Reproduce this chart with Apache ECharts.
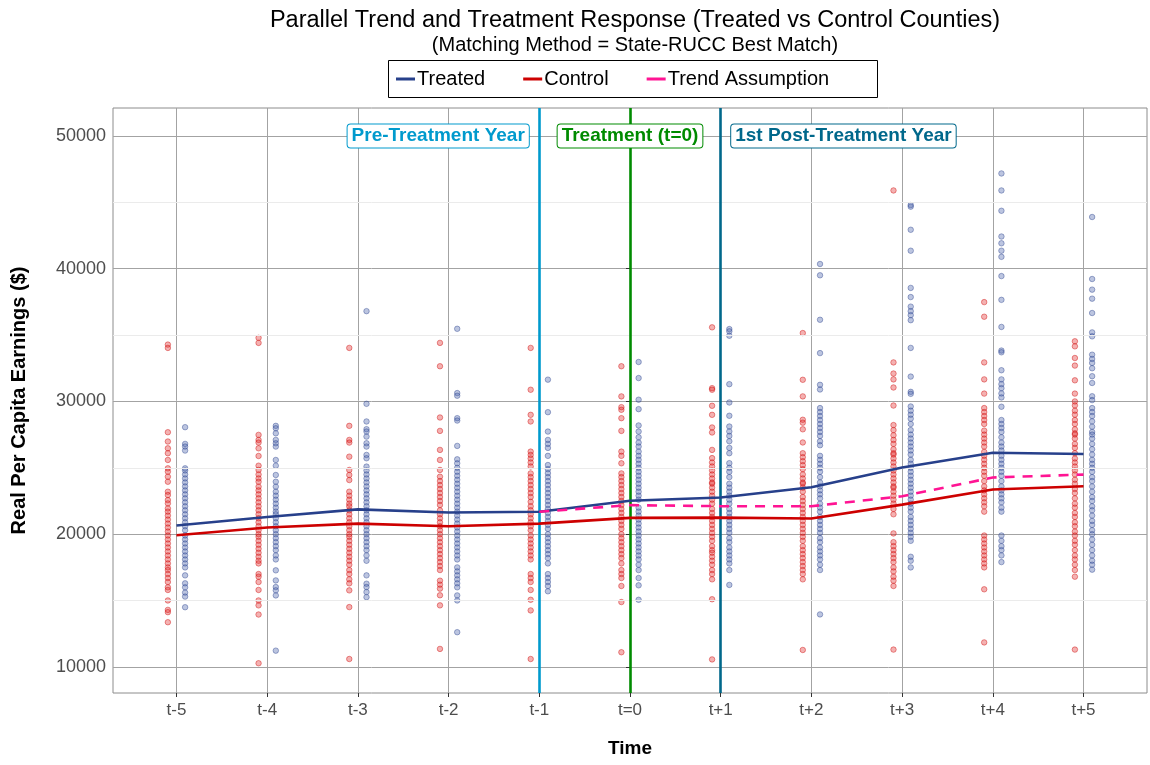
<!DOCTYPE html>
<html><head><meta charset="utf-8">
<script src="https://cdn.jsdelivr.net/npm/echarts@6/dist/echarts.min.js"></script>
<style>html,body{margin:0;padding:0;background:#fff}#chart{width:1150px;height:765px}</style>
</head><body><div id="chart"></div>
<script>
const periods = ['t-5','t-4','t-3','t-2','t-1','t=0','t+1','t+2','t+3','t+4','t+5'];
const periodValues = [-5,-4,-3,-2,-1,0,1,2,3,4,5];
const treatedMean = [20650,21300,21870,21640,21690,22520,22760,23540,25030,26130,26040];
const controlMean = [19920,20500,20800,20600,20800,21230,21250,21180,22230,23370,23610];
const trendAssumption = [null,null,null,null,21690,22190,22110,22110,22860,24270,24490];
const yTicks = [10000,20000,30000,40000,50000];
const yMinorTicks = [15000,25000,35000,45000];
const annotationLabels = ['Pre-Treatment Year','Treatment (t=0)','1st Post-Treatment Year'];
const annotationPeriods = [-1,0,1];
const annotationY = 50000;

const controlObs = [
[34280,34030,27680,26980,26470,26100,25590,24960,24710,24330,23950,23200,22950,22570,22320,21940,21700,21400,21100,20800,20500,20200,19900,19600,19300,19000,18700,18400,18100,17800,17500,17300,17000,16700,16400,16000,15800,15010,14300,14130,13370],
[34790,34410,27480,27100,26900,26470,25890,25160,24840,24500,24200,23950,23580,23300,23000,22700,22400,22100,21800,21500,21200,20900,20600,20300,20000,19800,19500,19200,18900,18600,18300,18000,17800,17000,16800,16400,15800,15010,14640,13950,10280],
[34030,28160,27100,26900,25840,24840,24460,24080,23200,22900,22600,22300,22100,21800,21500,21200,20900,20600,20300,20000,19800,19500,19200,18900,18600,18300,18000,17700,17300,17000,16600,16300,15770,14510,10600],
[34410,32650,28790,27780,26350,25590,24840,24330,24000,23700,23400,23100,22800,22500,22200,21800,21500,21200,20900,20600,20300,20000,19700,19400,19100,18800,18500,18200,17900,17600,17300,16500,16200,15900,15400,14640,11360],
[34030,30880,28990,28490,26220,25970,25700,25400,25100,24580,24300,24000,23700,23400,23100,22800,22440,22100,21800,21500,21200,20900,20600,20300,19900,19600,19300,19000,18700,18400,18100,17000,16700,16400,15800,15060,14260,10600],
[32650,30380,29570,29370,28740,27780,26220,25900,25340,24580,24300,24000,23700,23400,23100,22800,22500,22200,21900,21600,21300,21000,20700,20400,20000,19700,19400,19100,18800,18500,18200,17800,17300,17000,16700,16100,14890,11110],
[35580,31000,30880,29670,28990,28040,27660,26350,25730,25400,25100,24800,24500,24200,23900,23800,23500,23200,22900,22600,22300,21900,21600,21300,21000,20700,20400,20100,19800,19500,19100,18800,18600,18300,18000,17700,17300,17000,16600,15100,10570],
[35150,31630,30380,28620,28400,27900,26910,26100,25800,25500,25200,24900,24500,24200,23900,23800,23500,23200,22800,22500,22200,21900,21600,21300,21000,20700,20400,20100,19800,19500,19100,18800,18500,18200,17900,17600,17300,17000,16600,11280],
[45890,32940,32100,31660,31050,29690,28220,27840,27450,27100,26800,26400,26100,26000,25700,25400,25100,24800,24500,24200,23900,23600,23500,23200,22900,22600,22300,21900,21500,20060,19400,19100,18800,18500,18200,17900,17500,17200,16800,16500,16100,11310],
[37480,36380,32940,31660,30590,29500,29200,28900,28600,28300,27800,27500,27200,26900,26600,26200,25900,25600,25300,25000,24700,24400,24000,23600,23300,23000,22700,22400,22100,21700,19900,19600,19300,19000,18700,18400,18100,17800,17500,15850,11850],
[34530,34150,33270,32700,31590,30590,30000,29700,29300,29000,28600,28300,27900,27600,27500,27200,26800,26500,26100,25700,25400,25100,24800,24500,24100,23800,23400,23100,22700,22300,22000,21600,21300,20900,20600,20200,19900,19500,19200,18800,18400,18100,17700,17300,16800,11310]
];
const treatedObs = [
[28060,26800,26600,26300,24960,24800,24500,24200,23900,23600,23300,23000,22700,22400,22100,21800,21500,21200,20900,20600,20300,19900,19600,19300,19000,18700,18400,18100,17800,17500,16900,16300,16000,15600,15300,14500],
[28160,27980,27600,27100,26850,26600,25590,25160,24460,23950,23580,23200,22900,22600,22300,22000,21700,21500,21200,20900,20600,20300,20000,19700,19400,19100,18800,18400,18100,17280,16520,16020,15770,15390,11230],
[36800,29820,28490,27910,27730,27350,26850,26600,25970,25720,25090,24800,24500,24200,23900,23600,23300,23000,22700,22400,22100,21800,21500,21200,20900,20600,20300,20000,19700,19400,19100,18800,18400,18000,16900,16270,16020,15640,15260],
[35470,30630,30430,28740,28560,26650,25640,25340,25000,24700,24400,24100,23800,23500,23200,22900,22600,22300,22000,21700,21400,21100,20800,20500,20200,19900,19600,19300,19000,18700,18400,18100,17500,17200,16900,16600,16300,16000,15390,15010,12620],
[31640,29190,27730,27100,26800,26500,25900,25210,24900,24600,24300,24000,23700,23400,23100,22800,22500,22200,21900,21600,21300,21000,20700,20400,20000,19700,19400,19100,18800,18500,18200,17800,17000,16700,16400,16100,15700],
[32970,31760,30130,29420,28190,27730,27300,26900,26600,26220,25900,25600,25300,25000,24700,24400,24100,23800,23500,23200,22900,22600,22000,21700,21400,21100,20800,20500,20200,19900,19600,19300,19000,18700,18400,18100,17700,17300,16700,16150,15060],
[35450,35280,34950,31300,29920,28920,28110,27740,27400,27000,26500,26100,25350,25000,24700,24300,23800,23500,23200,22900,22600,22300,21900,21600,21300,21000,20700,20400,20100,19700,19400,19000,18700,18400,18100,17800,17300,16180],
[40350,39500,36150,33640,31250,30900,29500,29200,28900,28600,28300,28000,27700,27400,27000,26700,25900,25600,25300,25000,24700,24300,23900,23600,23300,23000,22700,22300,22000,21700,21300,21000,20700,20400,20100,19700,19400,19000,18700,18400,18100,17700,17300,13960],
[44790,44670,42930,41350,38550,37860,37140,36800,36500,36120,34030,31870,30720,30570,29620,29300,29000,28700,28300,27840,27500,27200,26900,26600,26300,26000,25600,25300,25000,24700,24400,24100,23800,23500,23200,22900,22600,22300,22000,21700,21300,21000,20700,20400,20100,19800,19500,18300,18000,17500],
[47170,45890,44360,42420,41910,41350,40890,39440,37650,35610,33830,33700,32350,31660,31300,31000,30600,30300,29600,28600,28300,28000,27700,27300,26900,26600,26300,25900,25600,25300,25000,24700,24400,24000,23600,23300,23000,22700,22400,22000,21700,19900,19500,19100,18800,18400,17900],
[43890,39220,38420,37740,36660,35200,34900,33520,33200,32900,32500,31900,31390,30390,30100,29500,29200,28900,28500,28100,27700,27500,27200,26800,26400,26000,25600,25300,25000,24700,24300,24000,23600,23200,22800,22500,22100,21800,21400,21000,20700,20300,20000,19600,19200,18800,18400,18000,17700,17330]
];

const COL_T = '#27408B', COL_C = '#CD0000', COL_TREND = '#FF1493';
const refColors = ['#009ACD', '#008B00', '#00688B'];
const FONT = '"Liberation Sans", Arial, sans-serif';

function pts(obs, shift) {
  const out = [];
  obs.forEach((col, i) => col.forEach(v => out.push([periodValues[i] + shift, v])));
  return out;
}
const pairs = arr => periodValues.map((p, i) => [p, arr[i]]).filter(d => d[1] != null);

const chart = echarts.init(document.getElementById('chart'), null, {renderer: 'canvas'});
const labelPos = ['left', 'inside', 'right'];
const option = {
  backgroundColor: '#fff',
  animation: false,
  textStyle: {fontFamily: FONT},
  title: {
    text: 'Parallel Trend and Treatment Response (Treated vs Control Counties)',
    subtext: '(Matching Method = State-RUCC Best Match)',
    left: 630, textAlign: 'center', top: 4, itemGap: 2,
    textStyle: {fontSize: 23.5, fontWeight: 'normal', color: '#000', fontFamily: FONT},
    subtextStyle: {fontSize: 20, color: '#000', fontFamily: FONT}
  },
  legend: {
    data: ['Treated', 'Control', 'Trend Assumption'],
    icon: 'rect',
    left: 396, top: 69, itemWidth: 19, itemHeight: 3, itemGap: 38, padding: 0,
    textStyle: {fontSize: 20, color: '#000', fontFamily: FONT, padding: [0,0,0,-3]}
  },
  graphic: [{
    type: 'rect', left: 386, top: 58, silent: true,
    shape: {width: 489, height: 37},
    style: {fill: 'none', stroke: '#000', lineWidth: 1}
  }],
  grid: {left: 113, right: 3, top: 108, bottom: 72, show: true, borderColor: '#8c8c8c', borderWidth: 1, backgroundColor: '#fff'},
  xAxis: {
    type: 'value', min: -5.7, max: 5.7,
    name: 'Time', nameLocation: 'middle', nameGap: 46,
    nameTextStyle: {fontSize: 19, fontWeight: 'bold', color: '#000', fontFamily: FONT},
    axisLine: {show: false},
    axisTick: {show: true, length: 4, customValues: periodValues, lineStyle: {color: '#333'}},
    axisLabel: {customValues: periodValues, fontSize: 17, color: '#4d4d4d', margin: 9,
      formatter: v => periods[periodValues.indexOf(Math.round(v))]},
    splitLine: {show: true, lineStyle: {color: '#a3a3a3', width: 1}}
  },
  yAxis: {
    type: 'value', min: 8040, max: 52100,
    name: 'Real Per Capita Earnings ($)', nameLocation: 'middle', nameGap: 84,
    nameTextStyle: {fontSize: 20, fontWeight: 'bold', color: '#000', fontFamily: FONT},
    axisLine: {show: false},
    axisTick: {show: true, length: 4, customValues: yTicks, lineStyle: {color: '#333'}},
    axisLabel: {customValues: yTicks, fontSize: 18, color: '#4d4d4d', margin: 7,
      formatter: v => String(Math.round(v))},
    splitLine: {show: true, lineStyle: {color: '#a3a3a3', width: 1}}
  },
  series: [
    {
      name: 'minorGrid', type: 'scatter', data: [], silent: true, z: 1,
      markLine: {silent: true, symbol: 'none', label: {show: false},
        lineStyle: {color: '#ebebeb', width: 1, type: 'solid'},
        data: yMinorTicks.map(v => ({yAxis: v}))}
    },
    {
      name: 'Control obs', type: 'scatter', data: pts(controlObs, -0.095), symbolSize: 5.5, z: 2,
      itemStyle: {color: 'rgba(225,40,40,0.45)', borderColor: 'rgba(205,0,0,0.65)', borderWidth: 0.8}
    },
    {
      name: 'Treated obs', type: 'scatter', data: pts(treatedObs, 0.095), symbolSize: 5.5, z: 2,
      itemStyle: {color: 'rgba(70,95,170,0.45)', borderColor: 'rgba(39,64,139,0.65)', borderWidth: 0.8}
    },
    {
      name: 'Treated', type: 'line', data: pairs(treatedMean), symbol: 'none', z: 5,
      color: COL_T, lineStyle: {color: COL_T, width: 2.6}
    },
    {
      name: 'Control', type: 'line', data: pairs(controlMean), symbol: 'none', z: 5,
      color: COL_C, lineStyle: {color: COL_C, width: 2.6}
    },
    {
      name: 'Trend Assumption', type: 'line', data: pairs(trendAssumption), symbol: 'none', z: 5,
      color: COL_TREND, lineStyle: {color: COL_TREND, width: 2.6, type: [10, 8]}
    },
    {
      name: 'refs', type: 'scatter', data: [], silent: true, z: 6,
      markLine: {silent: true, symbol: 'none', label: {show: false},
        data: annotationPeriods.map((p, i) => ({xAxis: p, lineStyle: {color: refColors[i], width: 2.6, type: 'solid'}}))},
      markPoint: {silent: true, symbol: 'circle', symbolSize: 1,
        data: annotationPeriods.map((p, i) => ({
          coord: [p, annotationY], value: annotationLabels[i],
          itemStyle: {color: 'rgba(0,0,0,0)'},
          label: {show: true, position: labelPos[i], distance: 10, formatter: annotationLabels[i],
            color: refColors[i], fontSize: 19, fontWeight: 'bold', fontFamily: FONT,
            backgroundColor: '#fff', borderColor: refColors[i], borderWidth: 1, borderRadius: 3,
            padding: [3, 4, 1, 4]}
        }))}
    }
  ]
};
chart.setOption(option);
</script></body></html>
